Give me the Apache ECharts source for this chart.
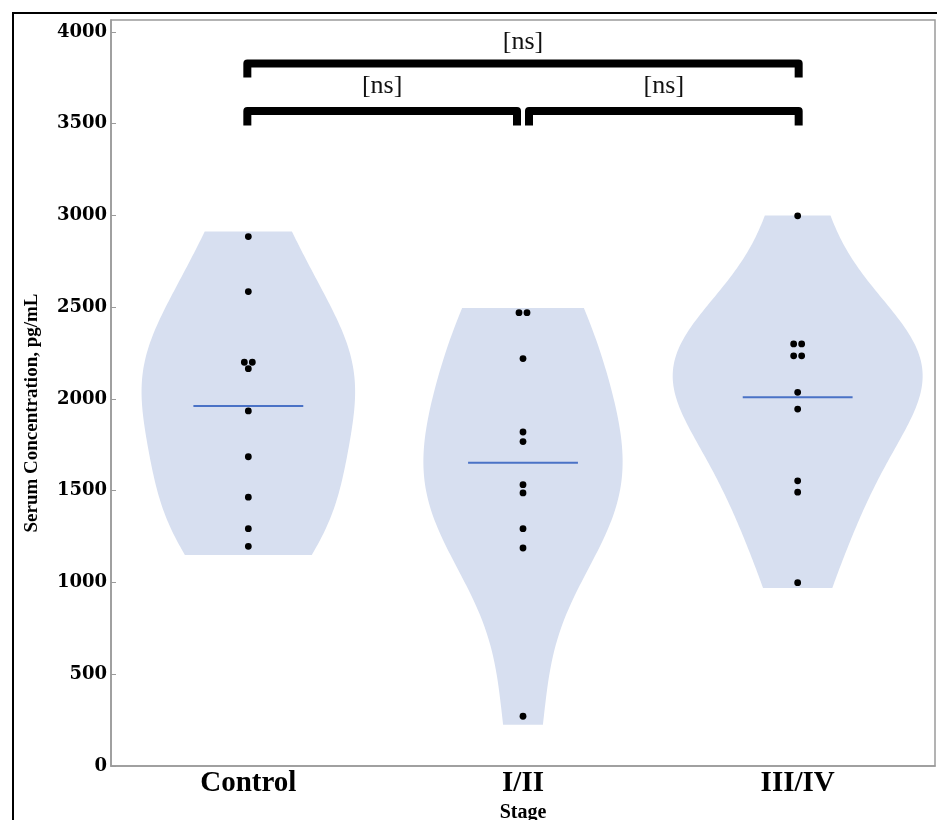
<!DOCTYPE html>
<html><head><meta charset="utf-8">
<script src="https://cdn.jsdelivr.net/npm/echarts@6/dist/echarts.min.js"></script>
<style>html,body{margin:0;padding:0;background:#fff}#c{width:937px;height:820px}</style>
</head><body><div id="c"></div>
<script>
// ---- data ----
const categories = ['Control', 'I/II', 'III/IV'];
const controlValues = [2885, 2585, 2200, 2200, 2165, 1935, 1685, 1465, 1293, 1197];
const stage12Values = [2470, 2470, 2220, 1820, 1768, 1533, 1488, 1293, 1188, 271];
const stage34Values = [2998, 2300, 2300, 2235, 2235, 2036, 1945, 1554, 1492, 999];
const violinLow = [1150, 225, 970];
const violinHigh = [2912, 2495, 3000];
const yTicks = [0, 500, 1000, 1500, 2000, 2500, 3000, 3500, 4000];
const bracketFrom = [0, 0, 1];
const bracketTo = [2, 1, 2];
const bracketBar = [3828, 3569, 3569];
const bracketLeg = [3752, 3490, 3490];
const bracketLabelValue = [3946, 3706, 3706];
const bracketLabels = ['[ns]', '[ns]', '[ns]'];
const yAxisTitle = 'Serum Concentration, pg/mL';
const xAxisTitle = 'Stage';

const groups = [controlValues, stage12Values, stage34Values];

// ---- statistics ----
function mean(a) { return a.reduce((s, v) => s + v, 0) / a.length; }
function bandwidth(a) {
  const n = a.length, m = mean(a);
  const sd = Math.sqrt(a.reduce((s, v) => s + (v - m) * (v - m), 0) / (n - 1));
  return 1.06 * sd * Math.pow(n, -0.2);
}
function kde(a, h, y) {
  let s = 0;
  for (const v of a) { const z = (y - v) / h; s += Math.exp(-0.5 * z * z); }
  return s / (a.length * h * Math.sqrt(2 * Math.PI));
}
const STEPS = 120;
const profiles = groups.map((a, i) => {
  const h = bandwidth(a), out = [];
  for (let k = 0; k <= STEPS; k++) {
    const y = violinLow[i] + (violinHigh[i] - violinLow[i]) * k / STEPS;
    out.push([y, kde(a, h, y)]);
  }
  return out;
});
const maxDensity = Math.max(...profiles.map(p => Math.max(...p.map(d => d[1]))));
const MAX_HALF = 0.455; // of category band
const means = groups.map(mean);

// swarm: equal values are placed side by side
const pointData = [];
groups.forEach((a, ci) => {
  const counts = {};
  a.forEach(v => { counts[v] = (counts[v] || 0) + 1; });
  const seen = {};
  a.forEach(v => {
    const k = seen[v] || 0; seen[v] = k + 1;
    pointData.push([ci, v, k, counts[v]]);
  });
});

const chart = echarts.init(document.getElementById('c'), null, { renderer: 'canvas' });
const serif = 'Liberation Serif';
chart.setOption({
  animation: false,
  backgroundColor: '#fff',
  graphic: [{
    type: 'rect', z: -10, silent: true,
    shape: { x: 13, y: 13, width: 1000, height: 1000 },
    style: { fill: 'none', stroke: '#000', lineWidth: 2 }
  }, {
    type: 'text', x: 32, y: 413, rotation: Math.PI / 2, silent: true,
    style: { text: yAxisTitle, align: 'center', verticalAlign: 'middle', fill: '#000',
             font: 'bold 19px "Liberation Serif"' }
  }],
  grid: { left: 111, right: 2, top: 20, bottom: 54, containLabel: false, outerBoundsMode: 'none',
          show: true, borderColor: '#9a9a9a', borderWidth: 1.5, backgroundColor: 'transparent' },
  xAxis: {
    type: 'category', data: categories,
    axisLine: { show: true, lineStyle: { color: '#9a9a9a', width: 1.5 } },
    axisTick: { show: false },
    axisLabel: { color: '#000', fontFamily: serif, fontWeight: 'bold', fontSize: 29, margin: 3 },
    name: xAxisTitle, nameLocation: 'middle', nameGap: 28,
    nameTextStyle: { color: '#000', fontFamily: serif, fontWeight: 'bold', fontSize: 20 }
  },
  yAxis: {
    type: 'value', min: 0, max: 4065, interval: 500,
    axisLine: { show: true, lineStyle: { color: '#9a9a9a', width: 1.5 } },
    axisTick: { show: true, inside: true, length: 5, customValues: yTicks, lineStyle: { color: '#9a9a9a' } },
    splitLine: { show: false },
    axisLabel: { customValues: yTicks, formatter: v => String(v), color: '#000',
                 fontFamily: '"DejaVu Serif"', fontWeight: 'bold', fontSize: 18, margin: 4 }
  },
  series: [
    {
      type: 'custom', name: 'violin', z: 1,
      data: categories.map((c, i) => [i, means[i]]),
      encode: { x: 0, y: 1 },
      renderItem: function (params, api) {
        const ci = api.value(0);
        const bw = api.size([1, 0])[0];
        const cx = api.coord([ci, 0])[0];
        const right = [], left = [];
        profiles[ci].forEach(([v, d]) => {
          const y = api.coord([ci, v])[1];
          const w = d / maxDensity * MAX_HALF * bw;
          right.push([cx + w, y]);
          left.unshift([cx - w, y]);
        });
        return { type: 'polygon', shape: { points: right.concat(left) }, style: { fill: '#d7dff0' } };
      }
    },
    {
      type: 'custom', name: 'mean', z: 2,
      data: categories.map((c, i) => [i, means[i]]),
      encode: { x: 0, y: 1 },
      renderItem: function (params, api) {
        const p = api.coord([api.value(0), api.value(1)]);
        const half = api.size([1, 0])[0] * 0.2;
        return { type: 'line', shape: { x1: p[0] - half, y1: p[1], x2: p[0] + half, y2: p[1] }, style: { stroke: '#4a72c6', lineWidth: 2 } };
      }
    },
    {
      type: 'custom', name: 'points', z: 3,
      data: pointData,
      encode: { x: 0, y: 1 },
      renderItem: function (params, api) {
        const p = api.coord([api.value(0), api.value(1)]);
        const k = api.value(2), m = api.value(3);
        const dx = (k - (m - 1) / 2) * 8;
        return { type: 'circle', shape: { cx: p[0] + dx, cy: p[1], r: 3.4 }, style: { fill: '#000' } };
      }
    },
    {
      type: 'custom', name: 'brackets', z: 4,
      data: bracketFrom.map((f, i) => [f, bracketTo[i], bracketBar[i], bracketLeg[i], bracketLabelValue[i]]),
      encode: { x: [0, 1], y: [2, 3, 4] },
      renderItem: function (params, api) {
        const f = api.value(0), t = api.value(1);
        let x1 = api.coord([f, 0])[0], x2 = api.coord([t, 0])[0];
        if (f === 1) x1 += 6; else x1 -= 1;
        if (t === 1) x2 -= 6; else x2 += 1;
        const yb = api.coord([f, api.value(2)])[1];
        const yl = api.coord([f, api.value(3)])[1];
        const yt = api.coord([f, api.value(4)])[1];
        return {
          type: 'group', children: [
            { type: 'polyline', shape: { points: [[x1, yl], [x1, yb], [x2, yb], [x2, yl]] },
              style: { stroke: '#000', lineWidth: 8, fill: null, lineJoin: 'round', lineCap: 'butt' } },
            { type: 'text', style: { text: bracketLabels[params.dataIndex], x: (x1 + x2) / 2, y: yt,
              align: 'center', verticalAlign: 'middle', fill: '#111', font: '26px "Liberation Serif"' } }
          ]
        };
      }
    }
  ]
});
</script>
</body></html>
